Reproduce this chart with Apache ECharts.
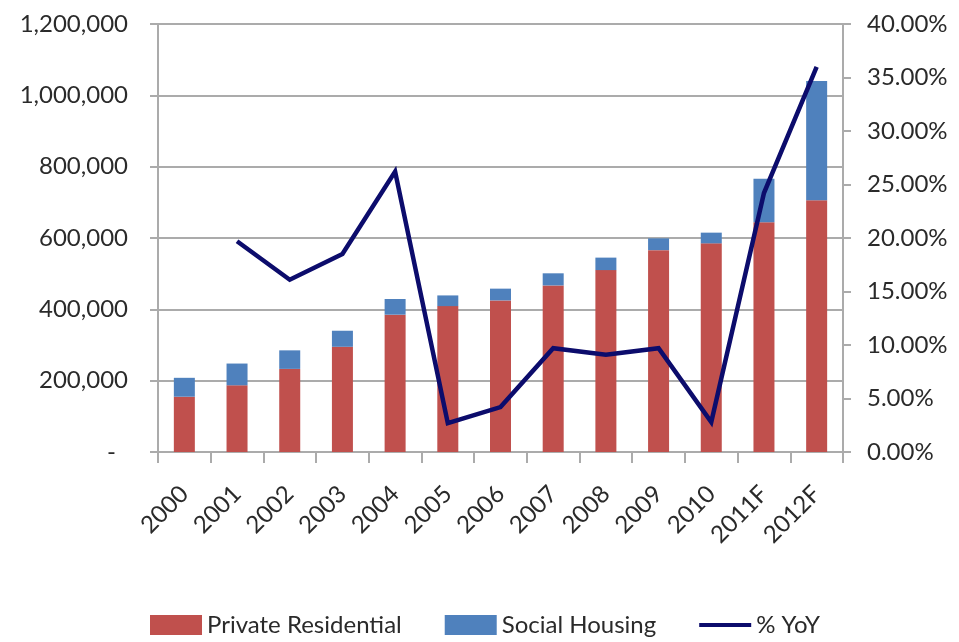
<!DOCTYPE html>
<html>
<head>
<meta charset="utf-8">
<title>Housing supply</title>
<script src="https://cdn.jsdelivr.net/npm/echarts@6/dist/echarts.min.js"></script>
<style>
  html, body { margin: 0; padding: 0; background: #ffffff; }
  #chart { width: 959px; height: 642px; }
</style>
</head>
<body>
<div id="chart"></div>
<script>
// Years on the category axis
const years = ['2000', '2001', '2002', '2003', '2004', '2005', '2006',
               '2007', '2008', '2009', '2010', '2011F', '2012F'];

// Units, stacked
const privateResidential = [155000, 187000, 233000, 295000, 385000, 409000, 425000,
                            467000, 510000, 566000, 585000, 644000, 706000];
const socialHousing = [53000, 61000, 52000, 45000, 44000, 30000, 33000,
                       34000, 35000, 33000, 30000, 122000, 334000];

// Year-on-year growth of the total, in percent
const yoyGrowth = [null, 19.7, 16.1, 18.5, 26.2, 2.7, 4.2,
                   9.7, 9.1, 9.7, 2.8, 24.2, 36.0];

const FONT = "Lato, 'Open Sans', sans-serif";
const FS = 24;
const TEXT = '#2a2a2a';
const GRID = '#ababab';
const NAVY = '#0c0c6c';

function withCommas(v) {
  return String(Math.round(v)).replace(/\B(?=(\d{3})+(?!\d))/g, ',');
}

const chart = echarts.init(document.getElementById('chart'), null, { renderer: 'canvas' });

chart.setOption({
  animation: false,
  backgroundColor: '#ffffff',
  textStyle: { fontFamily: FONT },
  grid: {
    left: 158, right: 116, top: 24, bottom: 190,
    containLabel: false,
    outerBoundsMode: 'none'
  },
  legend: {
    left: 145,
    top: 608,
    itemWidth: 52,
    itemHeight: 20,
    itemGap: 43,
    symbolKeepAspect: true,
    textStyle: { fontFamily: FONT, fontSize: FS, color: TEXT },
    data: [
      { name: 'Private Residential', icon: 'rect' },
      { name: 'Social Housing', icon: 'rect' },
      { name: '% YoY', icon: 'path://M0,0H56V4.5H0Z' }
    ]
  },
  xAxis: {
    type: 'category',
    data: years,
    axisLine: { show: true, lineStyle: { color: GRID, width: 2 } },
    axisTick: { show: true, length: 11, lineStyle: { color: GRID, width: 2 } },
    axisLabel: {
      rotate: 45,
      margin: 38,
      fontFamily: FONT,
      fontSize: FS,
      color: TEXT,
      interval: 0
    }
  },
  yAxis: [
    {
      type: 'value',
      min: 0,
      max: 1200000,
      interval: 200000,
      position: 'left',
      axisLine: { show: true, lineStyle: { color: GRID, width: 2 } },
      axisTick: { show: true, inside: false, length: 8, lineStyle: { color: GRID, width: 2 } },
      splitLine: { show: true, lineStyle: { color: GRID, width: 2 } },
      axisLabel: {
        margin: 30,
        fontFamily: FONT,
        fontSize: FS,
        color: TEXT,
        formatter: function (v) { return v === 0 ? '{dash|-}' : withCommas(v); },
        rich: {
          dash: { fontFamily: FONT, fontSize: FS, color: TEXT, padding: [0, 12, 0, 0] }
        }
      }
    },
    {
      type: 'value',
      min: 0,
      max: 40,
      interval: 5,
      position: 'right',
      axisLine: { show: true, lineStyle: { color: GRID, width: 2 } },
      axisTick: { show: true, inside: false, length: 8, lineStyle: { color: GRID, width: 2 } },
      splitLine: { show: false },
      axisLabel: {
        margin: 24,
        fontFamily: FONT,
        fontSize: FS,
        color: TEXT,
        formatter: function (v) { return v.toFixed(2) + '%'; }
      }
    }
  ],
  series: [
    {
      name: 'Private Residential',
      type: 'bar',
      stack: 'units',
      yAxisIndex: 0,
      barWidth: 21,
      itemStyle: { color: '#c0504d' },
      data: privateResidential
    },
    {
      name: 'Social Housing',
      type: 'bar',
      stack: 'units',
      yAxisIndex: 0,
      barWidth: 21,
      itemStyle: { color: '#4f81bd' },
      data: socialHousing
    },
    {
      name: '% YoY',
      type: 'line',
      yAxisIndex: 1,
      symbol: 'none',
      showSymbol: false,
      connectNulls: false,
      lineStyle: { color: NAVY, width: 4.5, join: 'miter' },
      itemStyle: { color: NAVY },
      z: 5,
      data: yoyGrowth
    }
  ]
});
</script>
</body>
</html>
